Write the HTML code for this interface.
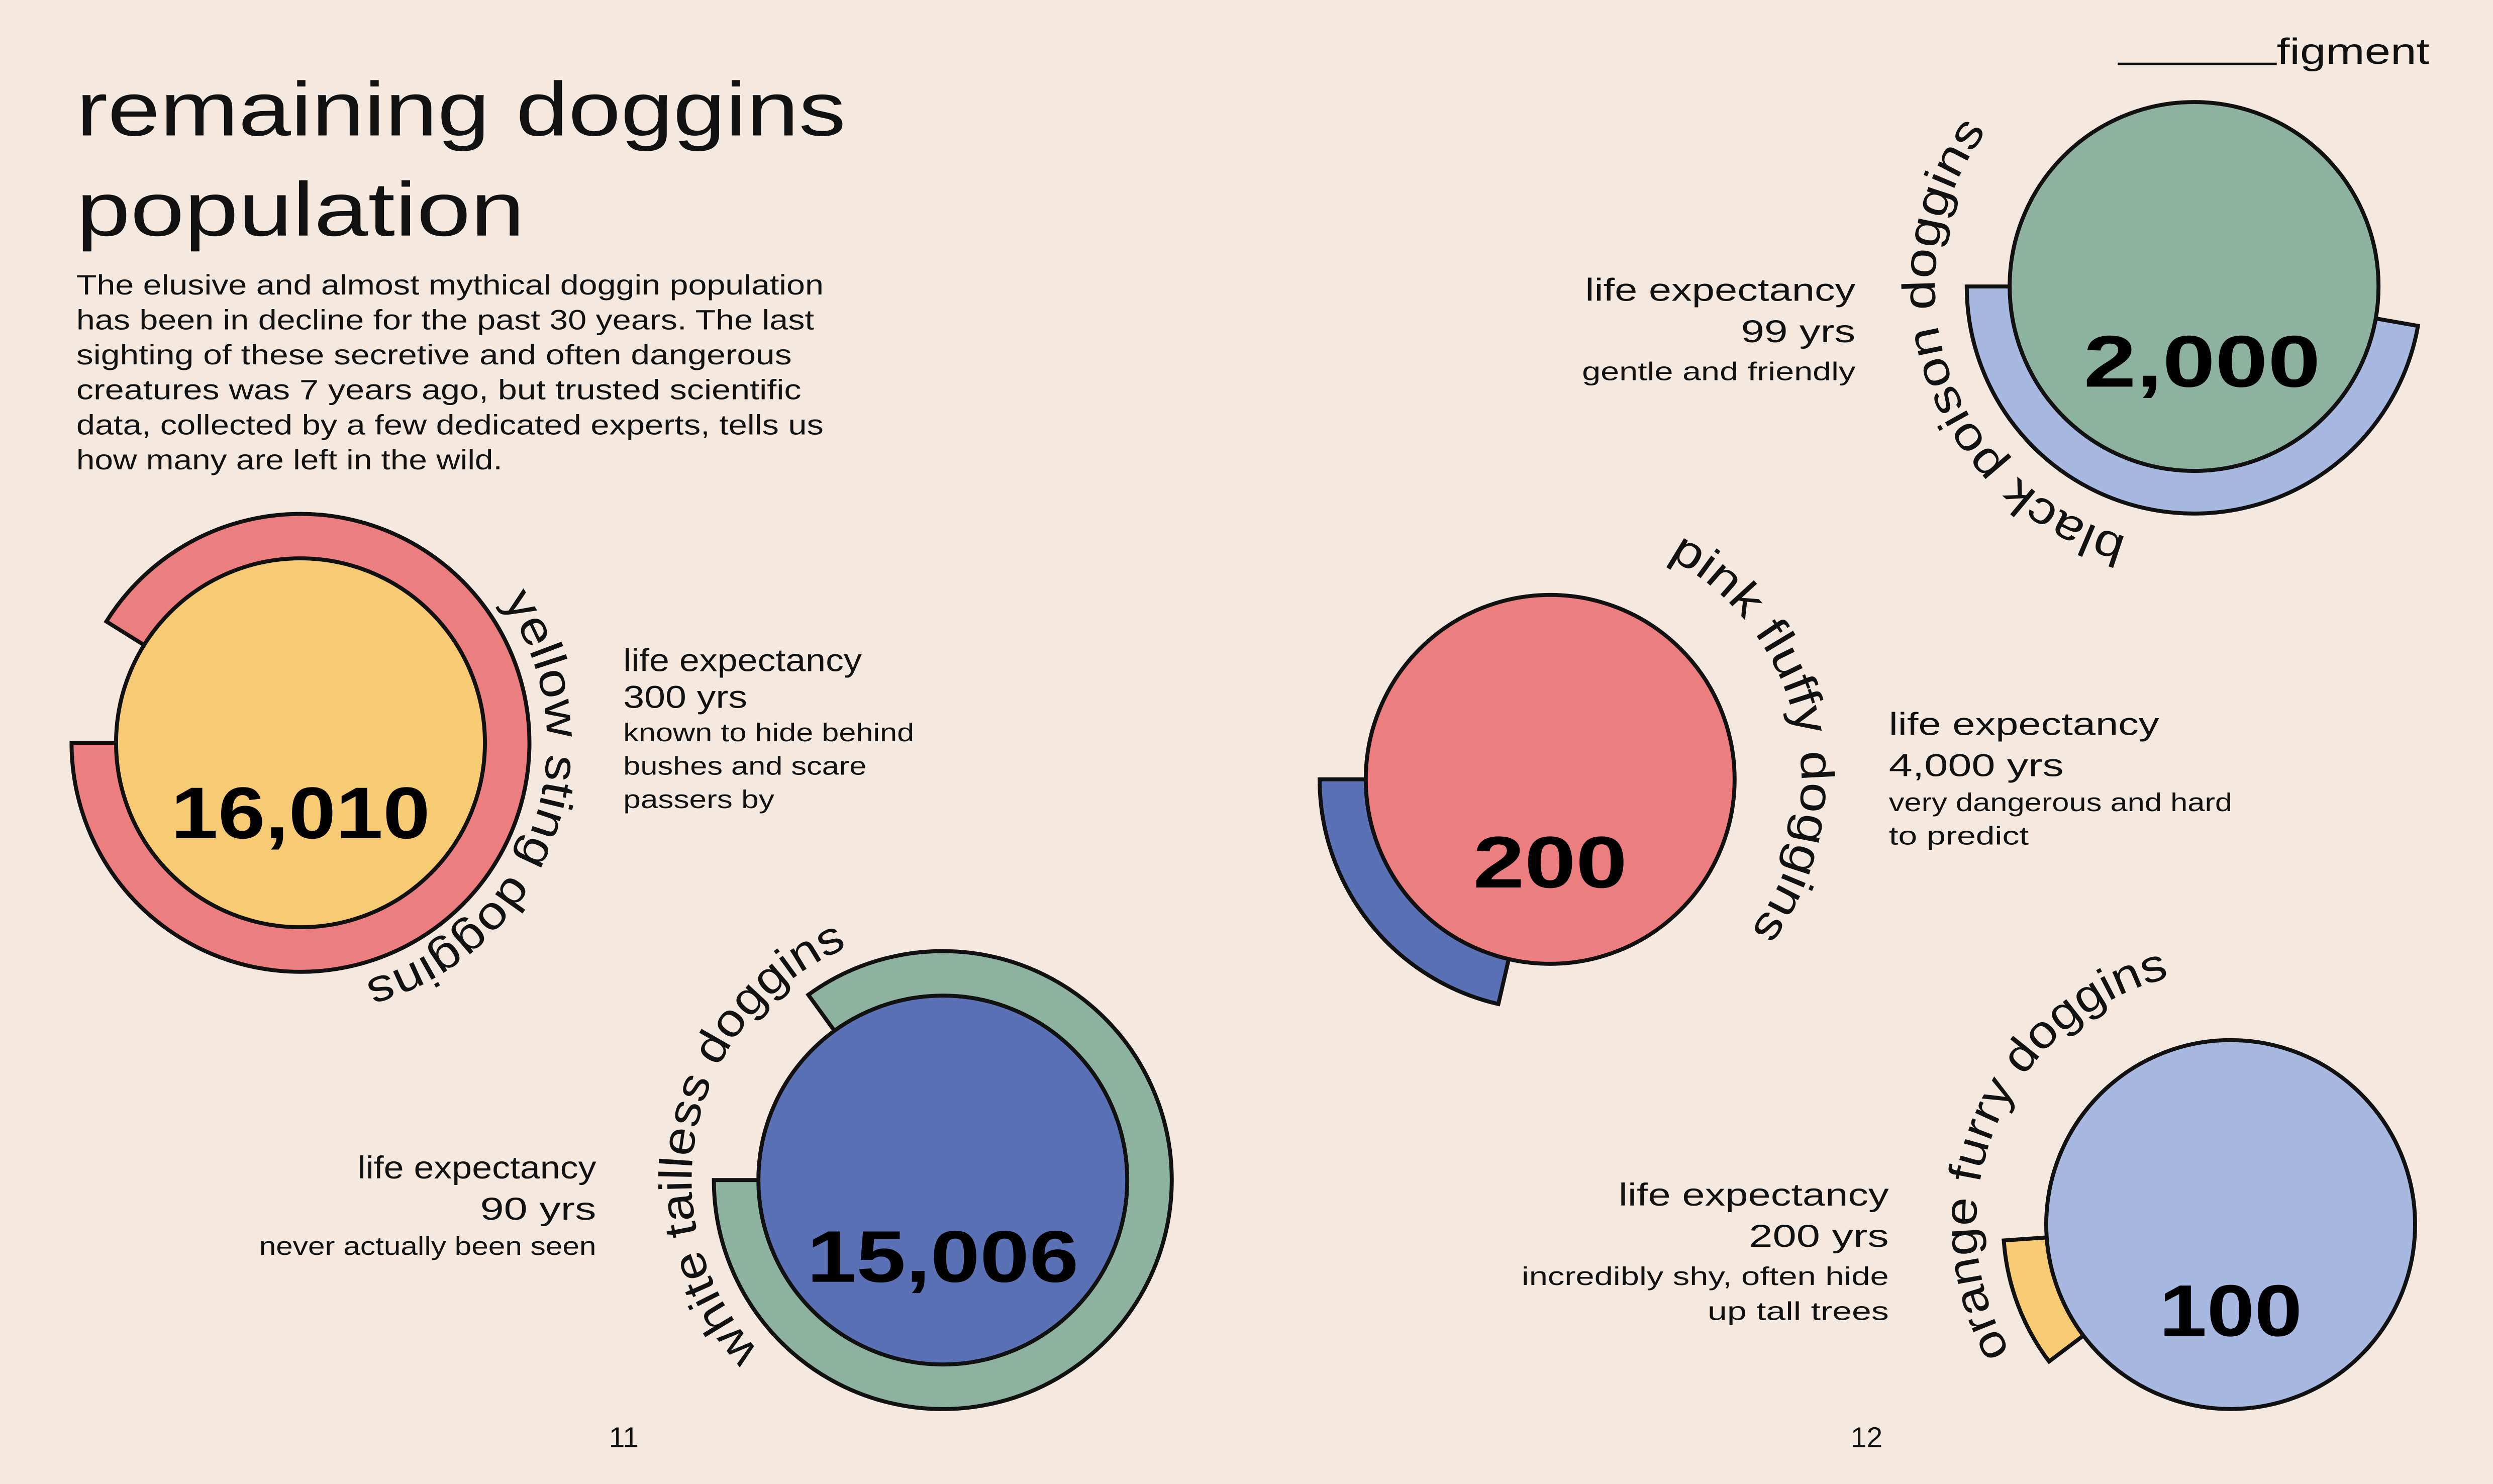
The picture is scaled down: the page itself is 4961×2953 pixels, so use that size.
<!DOCTYPE html>
<html><head><meta charset="utf-8">
<style>
html,body{margin:0;padding:0;background:#f5e8df;}
svg{display:block;}
text{font-family:"Liberation Sans","DejaVu Sans",sans-serif;fill:#111;}
.num{font-weight:bold;font-size:46px;text-anchor:middle;fill:#000;}
.le{font-size:20px;}
.sm{font-size:16px;}
.arc{font-size:29px;}
</style></head>
<body>
<svg width="4961" height="2953" viewBox="0 0 1568 933" xmlns="http://www.w3.org/2000/svg">
<rect width="1568" height="933" fill="#f5e8df"/>
<defs>
<path id="t1" d="M316 378.1 A155 155 0 0 1 229.1 616.7"/>
<path id="t2" d="M477.5 849.8 A158 158 0 0 1 536.4 594.5"/>
<path id="t3" d="M1049.2 350.5 A158 158 0 0 1 1101.2 585.1"/>
<path id="t4" d="M1337.8 337.5 A163 163 0 0 1 1251.6 79.6"/>
<path id="t5" d="M1264.4 850 A160 160 0 0 1 1364.3 614.8"/>
</defs>

<text x="48" y="85" font-size="48" textLength="484" lengthAdjust="spacingAndGlyphs">remaining doggins</text>
<text x="48" y="148" font-size="48" textLength="282" lengthAdjust="spacingAndGlyphs">population</text>
<g font-size="17.5">
<text x="48" y="185" textLength="470" lengthAdjust="spacingAndGlyphs">The elusive and almost mythical doggin population</text>
<text x="48" y="207" textLength="464" lengthAdjust="spacingAndGlyphs">has been in decline for the past 30 years. The last</text>
<text x="48" y="229" textLength="450" lengthAdjust="spacingAndGlyphs">sighting of these secretive and often dangerous</text>
<text x="48" y="251" textLength="456" lengthAdjust="spacingAndGlyphs">creatures was 7 years ago, but trusted scientific</text>
<text x="48" y="273" textLength="470" lengthAdjust="spacingAndGlyphs">data, collected by a few dedicated experts, tells us</text>
<text x="48" y="295" textLength="268" lengthAdjust="spacingAndGlyphs">how many are left in the wild.</text>
</g>
<line x1="1332" y1="40" x2="1432" y2="40" stroke="#111" stroke-width="1.5"/>
<text x="1432" y="40" font-size="23" textLength="96" lengthAdjust="spacingAndGlyphs">figment</text>
<text x="383" y="910" font-size="18">11</text>
<text x="1164" y="910" font-size="18">12</text>

<g stroke="#111" stroke-width="2.5">
<path d="M189 467 L66.9 390.7 A144 144 0 1 1 45 467 Z" fill="#ec7e80"/>
<circle cx="189" cy="467" r="116" fill="#f6cb73"/>
<path d="M593 742 L508.4 625.5 A144 144 0 1 1 449 742 Z" fill="#8db3a0"/>
<circle cx="593" cy="742" r="116" fill="#5b71b5"/>
<path d="M975 490 L942.4 631.3 A145 145 0 0 1 830 490 Z" fill="#5b71b5"/>
<circle cx="975" cy="490" r="116" fill="#ec7e80"/>
<path d="M1380 180 L1520.8 204.8 A143 143 0 0 1 1237 180 Z" fill="#a7b9e0"/>
<circle cx="1380" cy="180" r="116" fill="#8db3a0"/>
<path d="M1403 770 L1288.8 856.1 A143 143 0 0 1 1260.3 780 Z" fill="#f6cb73"/>
<circle cx="1403" cy="770" r="116" fill="#a7b9e0"/>
</g>

<text class="num" x="189" y="527" textLength="163" lengthAdjust="spacingAndGlyphs">16,010</text>
<text class="num" x="593" y="806" textLength="171" lengthAdjust="spacingAndGlyphs">15,006</text>
<text class="num" x="975" y="558" textLength="97" lengthAdjust="spacingAndGlyphs">200</text>
<text class="num" x="1385" y="243" textLength="149" lengthAdjust="spacingAndGlyphs">2,000</text>
<text class="num" x="1403" y="840" textLength="90" lengthAdjust="spacingAndGlyphs">100</text>

<text class="arc"><textPath href="#t1" textLength="297" lengthAdjust="spacingAndGlyphs">yellow sting doggins</textPath></text>
<text class="arc"><textPath href="#t2" textLength="305" lengthAdjust="spacingAndGlyphs">white tailless doggins</textPath></text>
<text class="arc"><textPath href="#t3" textLength="273" lengthAdjust="spacingAndGlyphs">pink fluffy doggins</textPath></text>
<text class="arc"><textPath href="#t4" textLength="318" lengthAdjust="spacingAndGlyphs">black poison doggins</textPath></text>
<text class="arc"><textPath href="#t5" textLength="296" lengthAdjust="spacingAndGlyphs">orange furry doggins</textPath></text>

<g lengthAdjust="spacingAndGlyphs">
<text class="le" x="392" y="422" textLength="150" lengthAdjust="spacingAndGlyphs">life expectancy</text>
<text class="le" x="392" y="445" textLength="78" lengthAdjust="spacingAndGlyphs">300 yrs</text>
<text class="sm" x="392" y="466" textLength="183" lengthAdjust="spacingAndGlyphs">known to hide behind</text>
<text class="sm" x="392" y="487" textLength="153" lengthAdjust="spacingAndGlyphs">bushes and scare</text>
<text class="sm" x="392" y="508" textLength="95" lengthAdjust="spacingAndGlyphs">passers by</text>

<text class="le" x="225" y="741" textLength="150" lengthAdjust="spacingAndGlyphs">life expectancy</text>
<text class="le" x="302" y="767" textLength="73" lengthAdjust="spacingAndGlyphs">90 yrs</text>
<text class="sm" x="163" y="789" textLength="212" lengthAdjust="spacingAndGlyphs">never actually been seen</text>

<text class="le" x="997" y="189" textLength="170" lengthAdjust="spacingAndGlyphs">life expectancy</text>
<text class="le" x="1095" y="215" textLength="72" lengthAdjust="spacingAndGlyphs">99 yrs</text>
<text class="sm" x="995" y="239" textLength="172" lengthAdjust="spacingAndGlyphs">gentle and friendly</text>

<text class="le" x="1018" y="758" textLength="170" lengthAdjust="spacingAndGlyphs">life expectancy</text>
<text class="le" x="1100" y="784" textLength="88" lengthAdjust="spacingAndGlyphs">200 yrs</text>
<text class="sm" x="957" y="808" textLength="231" lengthAdjust="spacingAndGlyphs">incredibly shy, often hide</text>
<text class="sm" x="1074" y="830" textLength="114" lengthAdjust="spacingAndGlyphs">up tall trees</text>

<text class="le" x="1188" y="462" textLength="170" lengthAdjust="spacingAndGlyphs">life expectancy</text>
<text class="le" x="1188" y="488" textLength="110" lengthAdjust="spacingAndGlyphs">4,000 yrs</text>
<text class="sm" x="1188" y="510" textLength="216" lengthAdjust="spacingAndGlyphs">very dangerous and hard</text>
<text class="sm" x="1188" y="531" textLength="88" lengthAdjust="spacingAndGlyphs">to predict</text>
</g>
</svg>
</body></html>
